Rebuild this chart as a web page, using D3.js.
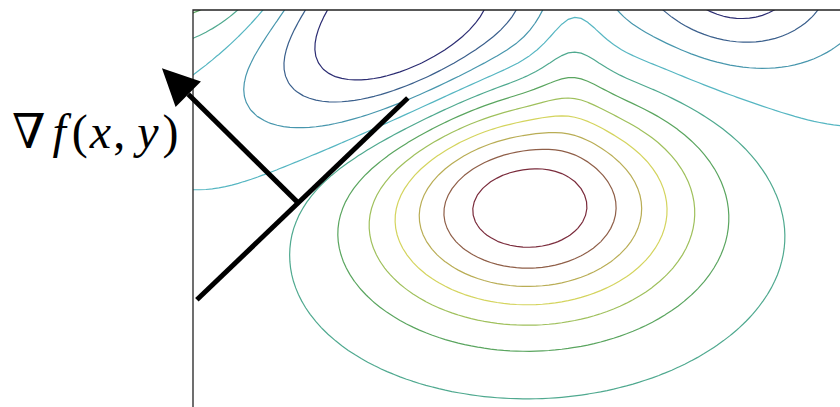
<!DOCTYPE html>
<html lang="en">
<head>
<meta charset="UTF-8">
<title>Gradient on contour plot</title>
<script src="https://d3js.org/d3.v7.min.js"></script>
<style>
  body, html { margin: 0; padding: 0; background: #fff; }
</style>
</head>
<body>
<svg id="chart" width="840" height="407"></svg>
<script>
// contour levels and their line colours (jet-like, low -> high)
const levels = [-3.6, -2.6, -1.6, -0.6, 0.4, 1.4, 2.4, 3.4, 4.4, 5.4, 6.4];
const levelColors = ["#2b2c72", "#3a5f8c", "#4796ad", "#56b6c2", "#4fa98f", "#5aa55f",
                     "#9fc05c", "#d4d45e", "#b9ad55", "#8f5f48", "#7a2b3b"];

// bumps that make up the surface (data units):
// peak, ridge, left well (narrow + broad), right well (narrow + broad), top-left hill
const bumpX   = [5.16, 5.85, 3.05, 3.05, 8.45, 9.00, -0.10];
const bumpY   = [3.08, 5.80, 5.82, 5.55, 6.50, 6.60, 6.75];
const bumpAmp = [7.6, 1.0, -4.35, -1.3, -2.9, -1.5, 3.4];
const bumpSx  = [1.80, 0.40, 1.45, 3.40, 1.00, 2.60, 1.40];
const bumpSy  = [1.22, 1.00, 1.10, 1.60, 0.80, 2.00, 0.90];
const bumpRot = [0, 0, 25, 25, 0, 0, 0];

// annotation: tangent line and gradient arrow (data units)
const tangentFrom = [0.06, 1.62], tangentTo = [3.32, 4.67];
const gradFrom = [1.61, 3.10], gradTo = [-0.48, 5.12];

const svg = d3.select("#chart");
const x = d3.scaleLinear().domain([0, 10]).range([193, 840]);
const y = d3.scaleLinear().domain([0, 6]).range([407, 10]);

function surface(px, py) {
  let v = 0;
  for (let k = 0; k < bumpX.length; k++) {
    const a = bumpRot[k] * Math.PI / 180;
    const dx = px - bumpX[k], dy = py - bumpY[k];
    const u = dx * Math.cos(a) + dy * Math.sin(a);
    const w = -dx * Math.sin(a) + dy * Math.cos(a);
    v += bumpAmp[k] * Math.exp(-(u * u) / (2 * bumpSx[k] ** 2) - (w * w) / (2 * bumpSy[k] ** 2));
  }
  return v;
}

// sample grid, a bit larger than the visible box so edges get clipped
const step = 0.1, gx0 = -0.6, gy1 = 6.6;
const n = Math.round(11.2 / step) + 1, m = Math.round(7.2 / step) + 1;
const values = new Array(n * m);
for (let j = 0; j < m; j++)
  for (let i = 0; i < n; i++)
    values[j * n + i] = surface(gx0 + i * step, gy1 - j * step);

const contours = d3.contours().size([n, m]).thresholds(levels)(values);
const proj = d3.geoTransform({
  point: function (px, py) {
    this.stream.point(x(gx0 + (px - 0.5) * step), y(gy1 - (py - 0.5) * step));
  }
});
const path = d3.geoPath(proj);

svg.append("clipPath").attr("id", "plot")
  .append("rect").attr("x", 193).attr("y", 10).attr("width", 660).attr("height", 410);

svg.append("g").attr("clip-path", "url(#plot)")
  .selectAll("path")
  .data(contours)
  .join("path")
  .attr("d", path)
  .attr("fill", "none")
  .attr("stroke", d => levelColors[levels.indexOf(d.value)])
  .attr("stroke-width", 1.2);

// frame (left and top edges; the rest is cut off by the page)
svg.append("path")
  .attr("d", `M${x(0)},${y(-0.1)}V${y(6)}H${x(10.2)}`)
  .attr("fill", "none").attr("stroke", "#222").attr("stroke-width", 1.3);

// tangent line
svg.append("line")
  .attr("x1", x(tangentFrom[0])).attr("y1", y(tangentFrom[1]))
  .attr("x2", x(tangentTo[0])).attr("y2", y(tangentTo[1]))
  .attr("stroke", "#000").attr("stroke-width", 5);

// gradient arrow
const ax0 = x(gradFrom[0]), ay0 = y(gradFrom[1]), ax1 = x(gradTo[0]), ay1 = y(gradTo[1]);
const ang = Math.atan2(ay1 - ay0, ax1 - ax0);
const headLen = 37, headHalf = 18;
const bx = ax1 - headLen * Math.cos(ang), by = ay1 - headLen * Math.sin(ang);
svg.append("line")
  .attr("x1", ax0).attr("y1", ay0).attr("x2", bx).attr("y2", by)
  .attr("stroke", "#000").attr("stroke-width", 5);
svg.append("path")
  .attr("d", `M${ax1},${ay1}L${bx + headHalf * Math.sin(ang)},${by - headHalf * Math.cos(ang)}` +
             `L${bx - headHalf * Math.sin(ang)},${by + headHalf * Math.cos(ang)}Z`)
  .attr("fill", "#000");

// label
const label = svg.append("text")
  .attr("x", 12).attr("y", 148)
  .attr("font-family", "Liberation Serif, Times New Roman, DejaVu Serif, serif")
  .attr("font-size", 48);
label.append("tspan").text("\u2207");
label.append("tspan").attr("font-style", "italic").attr("dx", 7).text("f");
label.append("tspan").attr("dx", 6).text("(");
label.append("tspan").attr("font-style", "italic").attr("dx", 2).text("x");
label.append("tspan").attr("dx", 2).text(",");
label.append("tspan").attr("font-style", "italic").attr("dx", 12).text("y");
label.append("tspan").attr("dx", 4).text(")");
</script>
</body>
</html>
